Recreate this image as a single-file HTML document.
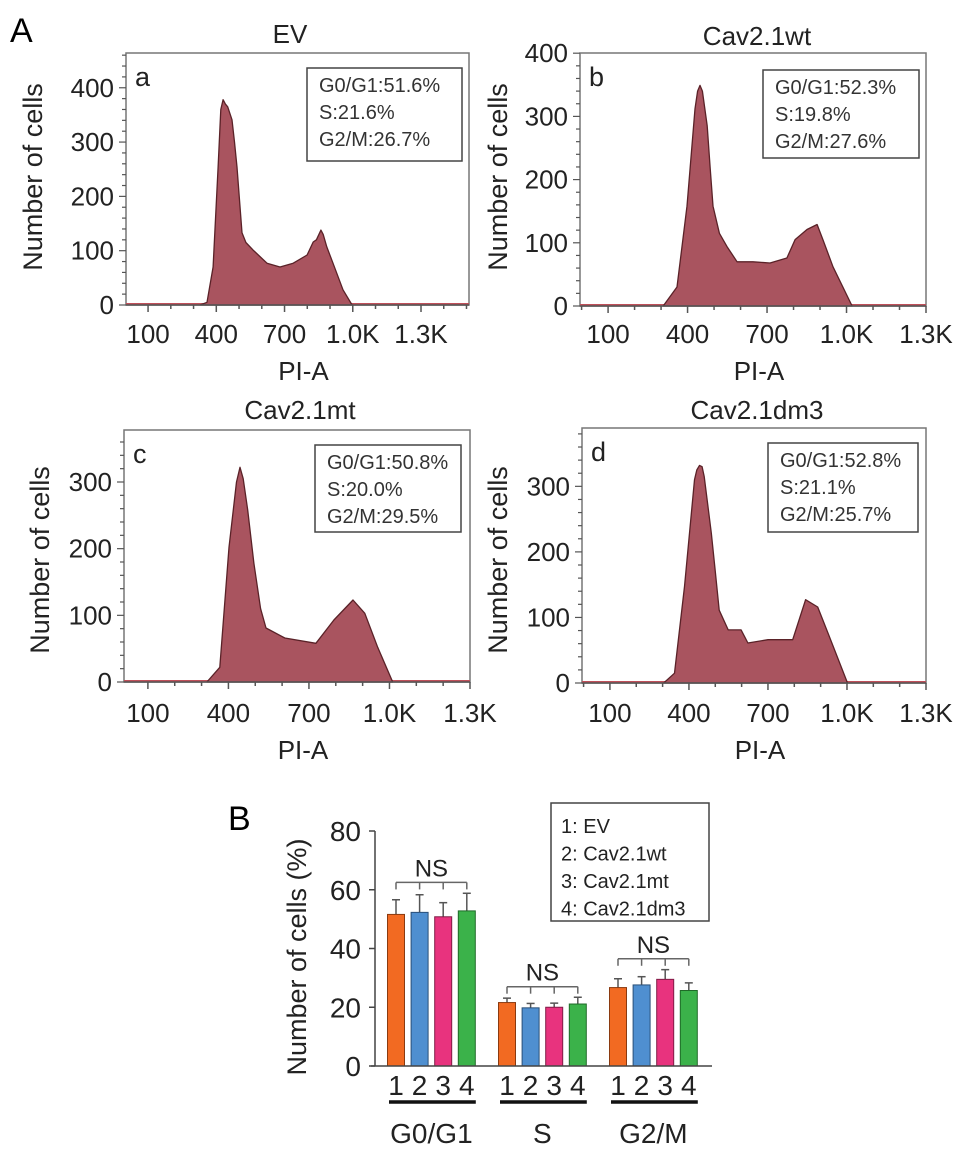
<!DOCTYPE html>
<html><head><meta charset="utf-8"><style>
html,body{margin:0;padding:0;background:#fff;}
svg{display:block;font-family:"Liberation Sans",Arial,sans-serif;}
</style></head><body>
<svg id="fig" width="969" height="1156" viewBox="0 0 969 1156" xmlns="http://www.w3.org/2000/svg">
<text x="10" y="42" font-size="34">A</text>
<text x="228" y="830" font-size="34">B</text>
<g id="hists"></g>
<g id="bars"></g>
</svg>
<script>
// ---- Histogram data (PI-A value, number of cells) ----
const histPI_a = [329,359,386,408,420,430,440,450,469,480,491,513,530,562,590,623,680,738,799,826,840,860,870,886,913,957,997];
const histCount_a = [0,5,70,254,360,378,370,365,341,300,254,133,115,101,90,77,70,77,92,116,120,138,130,107,77,28,0];
const histPI_b = [308,360,398,428,438,447,456,474,485,496,520,549,587,647,711,775,806,851,889,911,949,1021];
const histCount_b = [0,30,158,312,340,349,340,285,220,158,115,94,70,70,68,76,105,121,129,105,62,0];
const histPI_c = [320,368,402,430,443,455,472,495,520,540,610,726,793,864,908,956,1012];
const histCount_c = [0,22,202,300,322,305,258,178,110,81,66,58,93,123,103,52,0];
const histPI_d = [304,345,383,421,430,440,450,458,485,500,515,549,598,624,700,794,843,889,938,1002];
const histCount_d = [0,15,147,310,325,332,330,315,229,170,111,81,81,61,66,66,127,116,66,0];
const histTitles = ["EV","Cav2.1wt","Cav2.1mt","Cav2.1dm3"];
const statsG1 = ["G0/G1:51.6%","G0/G1:52.3%","G0/G1:50.8%","G0/G1:52.8%"];
const statsS = ["S:21.6%","S:19.8%","S:20.0%","S:21.1%"];
const statsG2 = ["G2/M:26.7%","G2/M:27.6%","G2/M:29.5%","G2/M:25.7%"];
const xTickVals = [100,400,700,1000,1300];
const xTickLabels = ["100","400","700","1.0K","1.3K"];
const yTicksA = [0,100,200,300,400];
const yTicksC = [0,100,200,300];

// ---- Bar chart data ----
const barGroups = ["G0/G1","S","G2/M"];
const barEV = [51.6,21.6,26.7];
const barWT = [52.3,19.8,27.6];
const barMT = [50.8,20.0,29.5];
const barDM3 = [52.8,21.1,25.7];
const errEV = [5.0,1.5,3.0];
const errWT = [6.0,1.5,2.8];
const errMT = [4.8,1.4,3.3];
const errDM3 = [6.0,2.3,2.6];
const nsLevel = [62.5,27,36.5];
const barYTicks = [0,20,40,60,80];
const legendLabels = ["1: EV","2: Cav2.1wt","3: Cav2.1mt","4: Cav2.1dm3"];

const NS = "http://www.w3.org/2000/svg";
function mk(tag, attrs, parent, txt){
  const e = document.createElementNS(NS, tag);
  for (const k in attrs) e.setAttribute(k, attrs[k]);
  if (txt !== undefined) e.textContent = txt;
  parent.appendChild(e);
  return e;
}

const panels = [
  {id:"a", L:126,R:469,T:53,B:305, xmin:3,xmax:1511, ymax:464, tx:290,ty:43, ylx:33,yly:177, tickY:343, piY:380, box:[307,68,155,93], pi:histPI_a, ct:histCount_a, yt:yTicksA},
  {id:"b", L:580,R:926,T:53,B:306, xmin:-6,xmax:1300, ymax:400.3, tx:757,ty:45, ylx:498,yly:177, tickY:343, piY:380, box:[763,70,156,88], pi:histPI_b, ct:histCount_b, yt:yTicksA},
  {id:"c", L:124,R:470,T:430,B:682, xmin:11,xmax:1300, ymax:378, tx:300,ty:419, ylx:40,yly:560, tickY:722, piY:759, box:[315,445,146,87], pi:histPI_c, ct:histCount_c, yt:yTicksC},
  {id:"d", L:582,R:926,T:428,B:683, xmin:-6,xmax:1300, ymax:389, tx:757,ty:419, ylx:498,yly:560, tickY:722, piY:759, box:[768,443,150,89], pi:histPI_d, ct:histCount_d, yt:yTicksC}
];
const hg = document.getElementById("hists");
panels.forEach((p, i) => {
  const g = mk("g", {}, hg);
  
  
  const sx = v => p.L + (v - p.xmin) / (p.xmax - p.xmin) * (p.R - p.L);
  const sy = v => p.B - v / p.ymax * (p.B - p.T);
  const t = mk("text", {x:p.tx, y:p.ty, "font-size":26, "text-anchor":"middle", fill:"#222"}, g, histTitles[i]);
  
  
  const fr = mk("rect", {x:p.L, y:p.T, width:p.R-p.L, height:p.B-p.T, fill:"#fff", stroke:"#777", "stroke-width":1.5}, g);
  
  
  const bl = mk("line", {x1:p.L, x2:p.R, y1:p.B-1, y2:p.B-1, stroke:"#c0505a", "stroke-width":2}, g);
  
  
  let d = "M" + sx(p.pi[0]) + "," + sy(0);
  p.pi.forEach((v, k) => { d += " L" + sx(v).toFixed(1) + "," + sy(p.ct[k]).toFixed(1); });
  d += " L" + sx(p.pi[p.pi.length-1]) + "," + sy(0) + " Z";
  const area = mk("path", {d:d, fill:"#a9545f", stroke:"#5a2228", "stroke-width":1.3, "stroke-linejoin":"round"}, g);
  
  
  mk("line", {x1:p.L, x2:p.R, y1:p.B, y2:p.B, stroke:"#555", "stroke-width":1.5}, g);
  for (let v = 0; v <= p.xmax; v += 100) {
    if (v < p.xmin) continue;
    const major = xTickVals.indexOf(v) >= 0;
    mk("line", {x1:sx(v), x2:sx(v), y1:p.B, y2:p.B + (major?7:4), stroke:"#555", "stroke-width":1.5}, g);
  }
  xTickVals.forEach((v, k) => {
    const tl = mk("text", {x:sx(v), y:p.tickY, "font-size":26, "text-anchor":"middle", fill:"#222"}, g, xTickLabels[k]);
    
    
  });
  for (let v = 0; v <= p.ymax; v += 20) {
    const major = v % 100 === 0;
    mk("line", {x1:p.L, x2:p.L - (major?7:4), y1:sy(v), y2:sy(v), stroke:"#555", "stroke-width":1.2}, g);
  }
  p.yt.forEach(v => {
    const yl = mk("text", {x:p.L - 12, y:sy(v) + 9, "font-size":26, "text-anchor":"end", fill:"#222"}, g, String(v));
    
    
  });
  const xt = mk("text", {x:(p.L+p.R)/2 + 6, y:p.piY, "font-size":26, "text-anchor":"middle", fill:"#222"}, g, "PI-A");
  
  
  const yt = mk("text", {x:0, y:0, "font-size":27, "text-anchor":"middle", fill:"#222", transform:"translate(" + (p.ylx + 9) + "," + p.yly + ") rotate(-90)"}, g, "Number of cells");
  
  
  const lt = mk("text", {x:p.L + 9, y:p.T + 33, "font-size":27, fill:"#222"}, g, p.id);
  
  
  const b = p.box;
  const sb = mk("rect", {x:b[0], y:b[1], width:b[2], height:b[3], fill:"#fff", stroke:"#444", "stroke-width":1.5}, g);
  
  
  [statsG1[i], statsS[i], statsG2[i]].forEach((s, k) => {
    const st = mk("text", {x:b[0] + 12, y:b[1] + 24 + k*27, "font-size":20, fill:"#333"}, g, s);
    
    
  });
});

// ---- Bar chart ----
const bg = document.getElementById("bars");
const X0 = 375, XEND = 712, Y0 = 1066, Y80 = 831;
const by = v => Y0 - v / 80 * (Y0 - Y80);
const groupStart = [396, 507, 618];
const step = 23.6, bw = 17;
const colors = ["#f26a22","#4f8fd0","#e8337e","#3bb24a"];
const strokes = ["#8a3a10","#2a4f78","#801c46","#1f6a28"];
const series = [barEV, barWT, barMT, barDM3];
const errs = [errEV, errWT, errMT, errDM3];
mk("line", {x1:X0, x2:X0, y1:Y80, y2:Y0, stroke:"#444", "stroke-width":1.5}, bg);
barYTicks.forEach(v => {
  mk("line", {x1:X0-6, x2:X0, y1:by(v), y2:by(v), stroke:"#444", "stroke-width":1.5}, bg);
  const tl = mk("text", {x:X0 - 14, y:by(v) + 10, "font-size":28, "text-anchor":"end", fill:"#222"}, bg, String(v));
  
  
});
const byt = mk("text", {x:0, y:0, "font-size":27, "text-anchor":"middle", fill:"#222", transform:"translate(306,957) rotate(-90)"}, bg, "Number of cells (%)");


barGroups.forEach((grp, gi) => {
  series.forEach((s, si) => {
    const cx = groupStart[gi] + si * step;
    const top = by(s[gi]);
    const et = by(s[gi] + errs[si][gi]);
    const el = mk("line", {x1:cx, x2:cx, y1:top, y2:et, stroke:"#555", "stroke-width":1.5}, bg);
    
    
    mk("line", {x1:cx-4, x2:cx+4, y1:et, y2:et, stroke:"#555", "stroke-width":1.5}, bg);
    const r = mk("rect", {x:cx - bw/2, y:top, width:bw, height:Y0 - top, fill:colors[si], stroke:strokes[si], "stroke-width":1}, bg);
    
    
    const nl = mk("text", {x:cx, y:1095, "font-size":28, "text-anchor":"middle", fill:"#222"}, bg, String(si+1));
    
    
  });
  const gx1 = groupStart[gi], gx2 = groupStart[gi] + 3*step;
  const ny = by(nsLevel[gi]);
  mk("line", {x1:gx1, x2:gx2, y1:ny, y2:ny, stroke:"#666", "stroke-width":1.5}, bg);
  for (let k = 0; k < 4; k++) {
    const x = gx1 + k*step;
    mk("line", {x1:x, x2:x, y1:ny, y2:ny + 7, stroke:"#666", "stroke-width":1.5}, bg);
  }
  const ns = mk("text", {x:(gx1+gx2)/2, y:ny - 6, "font-size":24, "text-anchor":"middle", fill:"#222"}, bg, "NS");
  
  
  const ul = mk("line", {x1:gx1 - 7, x2:gx2 + 9, y1:1102, y2:1102, stroke:"#111", "stroke-width":3.5}, bg);
  
  
  const gl = mk("text", {x:(gx1+gx2)/2, y:1143, "font-size":28, "text-anchor":"middle", fill:"#222"}, bg, grp);
  
  
});
mk("line", {x1:X0-4, x2:XEND, y1:Y0, y2:Y0, stroke:"#444", "stroke-width":1.5}, bg);
const lg = mk("rect", {x:551, y:803, width:158, height:118, fill:"#fff", stroke:"#444", "stroke-width":1.5}, bg);


legendLabels.forEach((s, k) => {
  const le = mk("text", {x:561, y:833 + k*27.5, "font-size":20, fill:"#222"}, bg, s);
  
  
});
</script>
</body></html>
